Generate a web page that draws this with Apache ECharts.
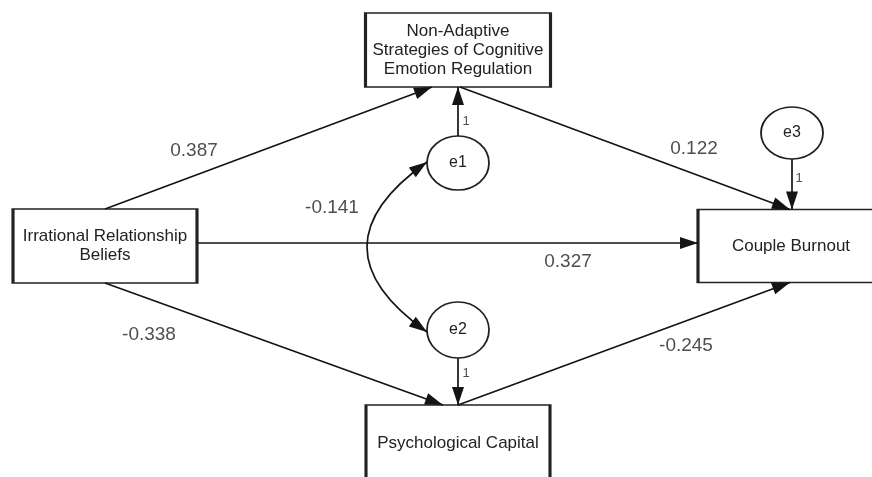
<!DOCTYPE html>
<html><head><meta charset="utf-8">
<script src="https://cdn.jsdelivr.net/npm/echarts@6.0.0/dist/echarts.min.js"></script>
<style>html,body{margin:0;padding:0;background:#fff}#c{width:872px;height:477px}</style>
</head><body><div id="c"></div>
<script>
// ---- data ----
const variables = ['IRB', 'NAS', 'CB', 'PC'];
const variableLabels = ['Irrational Relationship\nBeliefs', 'Non-Adaptive\nStrategies of Cognitive\nEmotion Regulation', 'Couple Burnout', 'Psychological Capital'];
const errorTerms = ['e1', 'e2', 'e3'];
const errorTargets = ['NAS', 'PC', 'CB'];
const errorLoadings = [1, 1, 1];
const pathFrom = ['IRB', 'NAS', 'IRB', 'IRB', 'PC'];
const pathTo = ['NAS', 'CB', 'CB', 'PC', 'CB'];
const pathCoefficients = [0.387, 0.122, 0.327, -0.338, -0.245];
const covPair = ['e1', 'e2'];
const covValue = -0.141;

// ---- layout (diagram geometry) ----
const boxLayout = {
  IRB: {cx: 105, cy: 246, w: 184, h: 74},
  NAS: {cx: 458, cy: 50, w: 185, h: 74},
  CB: {cx: 791, cy: 246, w: 186, h: 73},
  PC: {cx: 458, cy: 443, w: 184, h: 76}
};
const circleLayout = {
  e1: {cx: 458, cy: 163, rx: 31, ry: 27, side: 'top'},
  e2: {cx: 458, cy: 330, rx: 31, ry: 28, side: 'bottom'},
  e3: {cx: 792, cy: 133, rx: 31, ry: 26, side: 'bottom'}
};
const pathAnchors = [
  ['top', 0, 'bottom', -26],
  ['bottom', 2, 'top', -1],
  ['right', -3, 'left', -3],
  ['bottom', 0, 'top', -15],
  ['top', 0, 'bottom', -1]
];
const pathLabelPos = [[194, 151], [694, 149], [568, 262], [149, 335], [686, 346]];
const loadingLabelPos = [[466, 121], [466, 373], [799, 178]];
const covLabelPos = [332, 208];
const covCurveness = -0.706;

function anchor(b, side, off) {
  if (side === 'top') return [b.cx + off, b.cy - b.h / 2];
  if (side === 'bottom') return [b.cx + off, b.cy + b.h / 2];
  if (side === 'left') return [b.cx - b.w / 2, b.cy + off];
  return [b.cx + b.w / 2, b.cy + off];
}
function fmt(v) { return v.toFixed(3); }

const ARROW = 'path://M8,8 L10.67,16 L5.33,16 Z M0,0 L0.01,0 L0,0.01 Z M16,16 L15.99,16 L16,15.99 Z';
const LINE_COLOR = '#141414';
const TEXT_COLOR = '#222222';

const boxData = variables.map((v, i) => {
  const b = boxLayout[v];
  return {value: [b.cx, b.cy], symbol: 'rect', symbolSize: [b.w, b.h], label: {formatter: variableLabels[i]}};
});
const circleData = errorTerms.map(e => {
  const c = circleLayout[e];
  return {value: [c.cx, c.cy], symbol: 'circle', symbolSize: [c.rx * 2, c.ry * 2], label: {formatter: e}};
});

const pathLines = pathFrom.map((f, i) => {
  const a = pathAnchors[i];
  return {coords: [anchor(boxLayout[f], a[0], a[1]), anchor(boxLayout[pathTo[i]], a[2], a[3])]};
});
const errorLines = errorTerms.map((e, i) => {
  const c = circleLayout[e];
  const b = boxLayout[errorTargets[i]];
  const start = c.side === 'top' ? [c.cx, c.cy - c.ry] : [c.cx, c.cy + c.ry];
  const end = c.side === 'top' ? [c.cx, b.cy + b.h / 2] : [c.cx, b.cy - b.h / 2];
  return {coords: [start, end]};
});
const c1 = circleLayout[covPair[0]], c2 = circleLayout[covPair[1]];
const covLine = [{coords: [[c1.cx - c1.rx, c1.cy - 1], [c2.cx - c2.rx, c2.cy + 2]]}];

const textData = []
  .concat(pathCoefficients.map((v, i) => ({value: pathLabelPos[i], label: {formatter: fmt(v), fontSize: 19}})))
  .concat(errorLoadings.map((v, i) => ({value: loadingLabelPos[i], label: {formatter: String(v), fontSize: 13}})))
  .concat([{value: covLabelPos, label: {formatter: fmt(covValue), fontSize: 19}}]);

const chart = echarts.init(document.getElementById('c'), null, {renderer: 'canvas'});
chart.setOption({
  backgroundColor: '#ffffff',
  animation: false,
  grid: {left: 0, right: 0, top: 0, bottom: 0},
  xAxis: {type: 'value', min: 0, max: 872, show: false},
  yAxis: {type: 'value', min: 0, max: 477, inverse: true, show: false},
  series: [
    {
      type: 'lines', coordinateSystem: 'cartesian2d', z: 3, silent: true,
      symbol: ['none', ARROW], symbolSize: [0, 36],
      lineStyle: {color: LINE_COLOR, width: 1.7, opacity: 1},
      data: pathLines.concat(errorLines)
    },
    {
      type: 'lines', coordinateSystem: 'cartesian2d', z: 3, silent: true,
      symbol: [ARROW, ARROW], symbolSize: [36, 36],
      lineStyle: {color: LINE_COLOR, width: 1.7, opacity: 1, curveness: covCurveness},
      data: covLine
    },
    {
      type: 'scatter', z: 2, silent: true,
      itemStyle: {color: '#ffffff', borderColor: '#222', borderWidth: 2, opacity: 1},
      label: {show: true, position: 'inside', color: TEXT_COLOR, fontFamily: 'Liberation Sans, Arial, sans-serif', fontSize: 17, lineHeight: 19},
      data: boxData
    },
    {
      type: 'scatter', z: 2, silent: true,
      itemStyle: {color: '#ffffff', borderColor: '#222', borderWidth: 1.7, opacity: 1},
      label: {show: true, position: 'inside', color: TEXT_COLOR, fontFamily: 'Liberation Sans, Arial, sans-serif', fontSize: 16},
      data: circleData
    },
    {
      type: 'scatter', z: 4, silent: true, symbol: 'circle', symbolSize: 1,
      itemStyle: {color: 'rgba(0,0,0,0)'},
      label: {show: true, position: 'inside', color: TEXT_COLOR, fontFamily: 'Liberation Sans, Arial, sans-serif'},
      data: textData
    }
  ]
});
</script>
</body></html>
